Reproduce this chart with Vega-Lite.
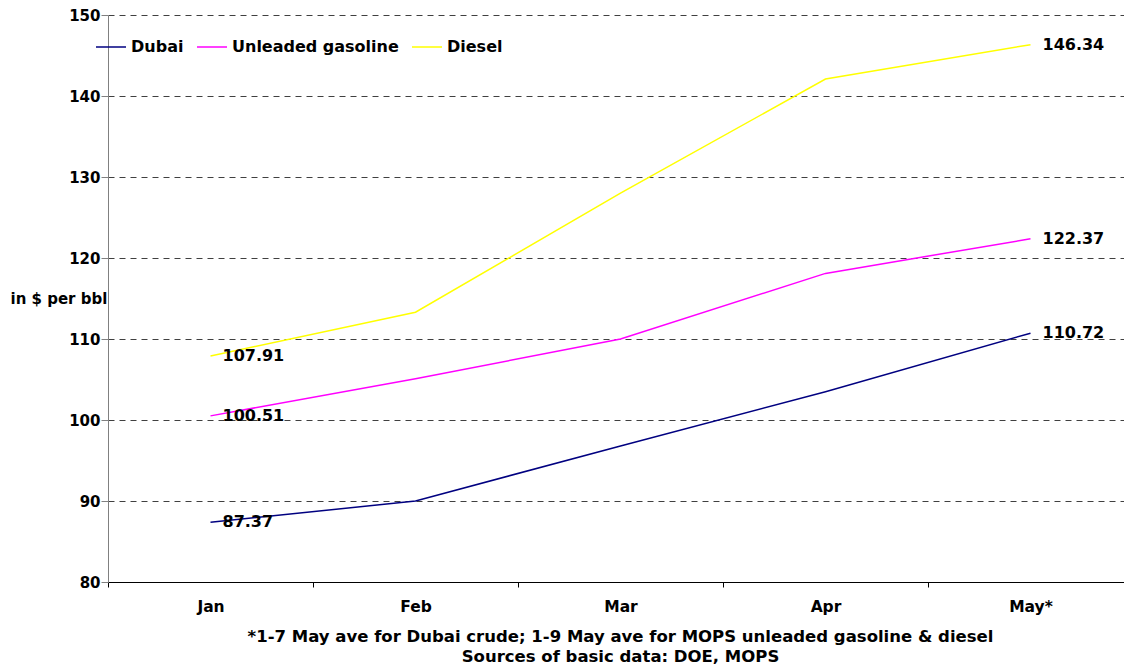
{
  "$schema": "https://vega.github.io/schema/vega-lite/v6.json",
  "autosize": {"type": "none"},
  "padding": {"left": 108, "top": 15, "right": 0, "bottom": 88},
  "width": 1016,
  "height": 567,
  "background": "white",
  "config": {
    "font": "DejaVu Sans",
    "view": {"stroke": null},
    "axis": {"labelFont": "DejaVu Sans", "titleFont": "DejaVu Sans", "labelFontWeight": "bold", "titleFontWeight": "bold", "labelColor": "black", "titleColor": "black"}
  },
  "data": {
    "values": [
      {"month": "Jan", "series": "Dubai", "value": 87.37},
      {"month": "Feb", "series": "Dubai", "value": 90.0},
      {"month": "Mar", "series": "Dubai", "value": 96.8},
      {"month": "Apr", "series": "Dubai", "value": 103.5},
      {"month": "May*", "series": "Dubai", "value": 110.72},
      {"month": "Jan", "series": "Unleaded gasoline", "value": 100.51},
      {"month": "Feb", "series": "Unleaded gasoline", "value": 105.1},
      {"month": "Mar", "series": "Unleaded gasoline", "value": 110.0},
      {"month": "Apr", "series": "Unleaded gasoline", "value": 118.1},
      {"month": "May*", "series": "Unleaded gasoline", "value": 122.37},
      {"month": "Jan", "series": "Diesel", "value": 107.91},
      {"month": "Feb", "series": "Diesel", "value": 113.3},
      {"month": "Mar", "series": "Diesel", "value": 128.0},
      {"month": "Apr", "series": "Diesel", "value": 142.1},
      {"month": "May*", "series": "Diesel", "value": 146.34}
    ]
  },
  "encoding": {
    "x": {
      "field": "month", "type": "nominal", "sort": ["Jan", "Feb", "Mar", "Apr", "May*"],
      "scale": {"type": "band", "paddingInner": 0, "paddingOuter": 0, "range": [0, 1025]},
      "axis": {
        "labelAngle": 0, "labelFontSize": 15.5, "labelPadding": 12, "tickSize": 5, "tickBand": "extent",
        "domainColor": "black", "tickColor": "black", "domainWidth": 1, "grid": false,
        "title": ["*1-7 May ave for Dubai crude; 1-9 May ave for MOPS unleaded gasoline & diesel", "Sources of basic data: DOE, MOPS"],
        "titleFontSize": 16.5, "titleLineHeight": 20, "titleBaseline": "top", "titleY": 46, "titleX": 512, "titleAnchor": null
      }
    },
    "y": {
      "field": "value", "type": "quantitative",
      "scale": {"domain": [80, 150], "nice": false, "zero": false},
      "axis": {
        "values": [80, 90, 100, 110, 120, 130, 140, 150],
        "labelFontSize": 15, "labelPadding": 1, "tickSize": 7, "tickColor": "#808080", "domainColor": "#808080",
        "grid": true, "gridColor": "#404040", "gridDash": [6, 5], "gridWidth": 1,
        "title": "in $ per bbl", "titleAngle": 0, "titleAlign": "left", "titleBaseline": "middle",
        "titleX": -98, "titleY": 283, "titleFontSize": 15, "titleLimit": 300
      }
    }
  },
  "layer": [
    {
      "mark": {"type": "line", "strokeWidth": 1.5},
      "encoding": {
        "color": {
          "field": "series", "type": "nominal",
          "scale": {"domain": ["Dubai", "Unleaded gasoline", "Diesel"], "range": ["#000080", "#FF00FF", "#FFFF00"]},
          "legend": {
            "title": null, "orient": "none", "direction": "horizontal", "legendX": -13, "legendY": 16,
            "symbolType": "stroke", "symbolSize": 900, "symbolStrokeWidth": 1.5, "labelFontSize": 16, "labelLimit": 400,
            "labelFontWeight": "bold", "labelFont": "DejaVu Sans", "labelColor": "black", "labelOffset": 4, "columnPadding": 10, "padding": 0
          }
        }
      }
    },
    {
      "transform": [{"filter": "datum.month == 'Jan' || datum.month == 'May*'"}],
      "mark": {"type": "text", "align": "left", "baseline": "middle", "dx": 12, "fontSize": 16, "fontWeight": "bold", "font": "DejaVu Sans", "color": "black"},
      "encoding": {
        "text": {"field": "value", "type": "quantitative", "format": ".2f"}
      }
    }
  ]
}
